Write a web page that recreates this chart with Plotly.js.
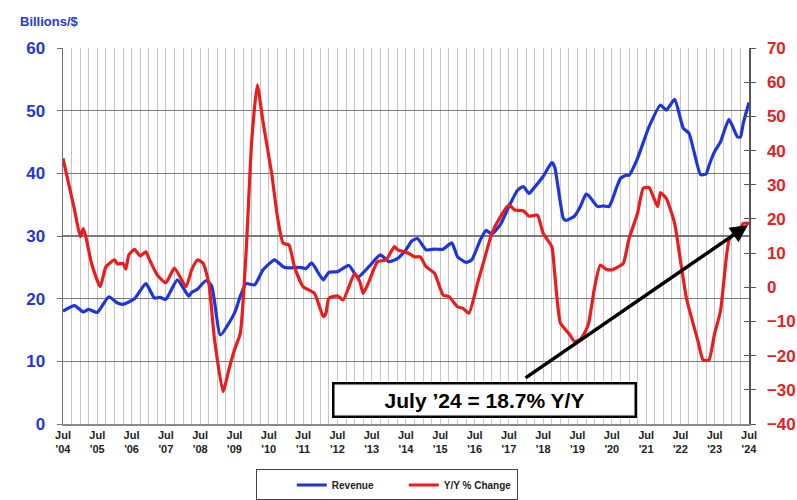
<!DOCTYPE html>
<html>
<head>
<meta charset="utf-8">
<script src="https://cdn.plot.ly/plotly-3.0.1.min.js"></script>
<style>html,body{margin:0;padding:0;background:#fff;}#chart{width:797px;height:500px;}</style>
</head>
<body>
<div id="chart"></div>
<script>
// Revenue (Billions $), left axis
const revDates = ['2004-07','2004-11','2005-02','2005-04','2005-07','2005-11','2006-02','2006-04','2006-08','2006-12',
  '2007-03','2007-05','2007-07','2007-11','2008-03','2008-04','2008-06','2008-09','2008-11','2009-02',
  '2009-07','2009-09','2009-11','2010-02','2010-05','2010-09','2010-12','2011-02','2011-06','2011-08',
  '2011-10','2012-02','2012-04','2012-07','2012-11','2013-02','2013-06','2013-10','2014-01','2014-04',
  '2014-07','2014-09','2014-11','2015-02','2015-05','2015-08','2015-11','2016-01','2016-04','2016-06',
  '2016-09','2016-11','2017-01','2017-04','2017-07','2017-10','2017-12','2018-02','2018-04','2018-07',
  '2018-10','2018-11','2019-02','2019-03','2019-06','2019-08','2019-10','2019-11','2020-02','2020-04',
  '2020-06','2020-07','2020-10','2020-12','2021-01','2021-04','2021-08','2021-12','2022-02','2022-05',
  '2022-08','2022-10','2023-02','2023-04','2023-05','2023-07','2023-09','2023-12','2024-03','2024-04',
  '2024-05','2024-07'];
const revenue = [18.0,18.9,17.9,18.3,17.8,20.3,19.3,19.1,20.0,22.4,
  20.1,20.2,19.9,23.0,20.4,21.0,21.5,22.9,22.0,14.2,
  17.7,20.4,22.4,22.2,24.6,26.2,25.1,24.9,25.0,24.8,
  25.7,23.0,24.2,24.3,25.3,23.4,25.1,27.0,25.9,26.4,
  27.8,29.2,29.6,27.8,27.9,27.9,28.9,26.7,25.8,26.2,
  29.4,30.9,30.3,31.8,34.7,37.3,37.9,36.8,37.8,39.5,
  41.7,41.0,32.8,32.5,33.2,34.7,36.7,36.4,34.7,34.8,
  34.7,35.6,39.2,39.7,39.7,42.4,47.4,50.9,50.1,51.8,
  47.2,46.4,39.8,39.9,41.2,43.5,45.0,48.6,45.8,45.8,
  48.0,51.3];

// Y/Y % change, right axis
const yoyDates = ['2004-07','2004-11','2005-01','2005-02','2005-03','2005-05','2005-08','2005-10','2006-01','2006-02',
  '2006-04','2006-05','2006-06','2006-08','2006-10','2006-12','2007-01','2007-04','2007-07','2007-10',
  '2008-02','2008-04','2008-06','2008-08','2008-10','2008-12','2009-03','2009-05','2009-07','2009-09',
  '2009-11','2010-01','2010-03','2010-05','2010-08','2010-10','2010-12','2011-02','2011-04','2011-07',
  '2011-11','2012-02','2012-03','2012-04','2012-07','2012-09','2013-01','2013-03','2013-04','2013-06',
  '2013-09','2013-12','2014-03','2014-04','2014-07','2014-08','2014-10','2014-12','2015-02','2015-05',
  '2015-08','2015-10','2016-01','2016-03','2016-05','2016-08','2016-10','2017-01','2017-04','2017-07',
  '2017-09','2017-12','2018-02','2018-05','2018-07','2018-10','2018-11','2019-01','2019-04','2019-06',
  '2019-08','2019-10','2019-11','2020-01','2020-03','2020-05','2020-07','2020-09','2020-11','2021-01',
  '2021-04','2021-06','2021-08','2021-11','2021-12','2022-02','2022-05','2022-07','2022-09','2022-10',
  '2023-01','2023-03','2023-05','2023-07','2023-09','2023-10','2023-12','2024-02','2024-03','2024-05',
  '2024-07'];
const yoy = [37.7,22.6,14.8,17.2,14.8,7.0,0.2,6.0,8.0,6.8,
  7.0,5.3,9.4,11.1,9.2,10.4,8.5,3.6,1.3,5.6,
  0.2,5.1,8.0,7.0,1.2,-15.4,-30.5,-24.2,-18.3,-13.5,
  9.9,43.1,59.2,48.4,33.3,20.7,12.9,12.4,6.0,0.2,
  -1.8,-8.6,-7.6,-3.2,-2.5,-3.7,4.1,1.3,-1.8,1.6,
  7.5,8.0,11.9,11.0,10.2,9.9,8.9,8.9,6.0,4.1,
  -2.3,-2.7,-5.7,-6.2,-7.6,1.2,7.0,15.8,20.6,24.1,
  22.6,22.4,20.8,21.1,15.8,11.9,4.1,-10.5,-13.5,-15.9,
  -15.2,-12.5,-10.1,0.2,6.5,5.3,5.1,5.9,7.0,14.3,
  21.6,29.0,29.2,23.6,27.7,26.0,18.7,8.0,-2.8,-6.2,
  -15.4,-21.3,-21.3,-13.5,-7.1,0.2,13.8,16.0,15.5,18.7,
  18.7];

const seriesNames = ['Revenue', 'Y/Y % Change'];
const years = [2004,2005,2006,2007,2008,2009,2010,2011,2012,2013,2014,2015,2016,2017,2018,2019,2020,2021,2022,2023,2024];
const leftTicks = [0,10,20,30,40,50,60];
const rightTicks = [-40,-30,-20,-10,0,10,20,30,40,50,60,70];
const calloutText = 'July ’24 = 18.7% Y/Y';

// quarterly gridline positions with July labels
const tickVals = [], tickText = [];
years.forEach((y, i) => {
  const months = (i === years.length - 1) ? [7] : [7,10,13,16];
  months.forEach(m => {
    const yy = m > 12 ? y + 1 : y;
    const mm = m > 12 ? m - 12 : m;
    tickVals.push(yy + '-' + String(mm).padStart(2,'0') + '-01');
    tickText.push(m === 7 ? 'Jul<br>\'' + String(y).slice(2) : '');
  });
});

const BLUE = '#1f35dc', RED = '#ec1c1c';
const FONT = 'Liberation Sans, Arial, sans-serif';

const traces = [
  {x: revDates, y: revenue, name: seriesNames[0], type: 'scatter', mode: 'lines', yaxis: 'y',
   line: {color: BLUE, width: 3.2, shape: 'spline', smoothing: 0.5}},
  {x: yoyDates, y: yoy, name: seriesNames[1], type: 'scatter', mode: 'lines', yaxis: 'y2',
   line: {color: RED, width: 3.2, shape: 'spline', smoothing: 0.5}},
  {x: [], y: [], yaxis: 'y3', showlegend: false, hoverinfo: 'skip'}
];

const layout = {
  width: 797, height: 500,
  margin: {l: 63, r: 48, t: 48, b: 76, autoexpand: false},
  paper_bgcolor: '#fff', plot_bgcolor: '#fff',
  showlegend: true,
  font: {family: FONT},
  xaxis: {
    type: 'date', range: ['2004-07-01', '2024-07-01'],
    tickmode: 'array', tickvals: tickVals, ticktext: tickText,
    showgrid: true, gridcolor: '#c4c4c4', gridwidth: 1,
    showline: true, linecolor: '#8a8a8a', linewidth: 1.5,
    ticks: '', tickangle: 0, automargin: false,
    tickfont: {family: FONT, size: 11, color: '#222', weight: 'bold'},
    zeroline: false
  },
  yaxis: {
    range: [0, 60], tickmode: 'array', tickvals: leftTicks, automargin: false,
    showgrid: true, gridcolor: '#7a7a7a', gridwidth: 1.5,
    showline: true, linecolor: '#6e6e6e', linewidth: 1.5,
    ticks: 'outside', ticklen: 5, tickcolor: '#6e6e6e',
    ticklabelstandoff: 8,
    tickfont: {family: FONT, size: 17, color: '#2437d8', weight: 'bold'},
    zeroline: false
  },
  yaxis2: {
    range: [-40, 70], overlaying: 'y', side: 'right', automargin: false,
    tickmode: 'array', tickvals: rightTicks,
    showgrid: false, showline: true, linecolor: '#555', linewidth: 1.5,
    ticks: 'outside', ticklen: 5, tickcolor: '#555',
    ticklabelstandoff: 8,
    tickfont: {family: FONT, size: 17, color: '#e32222', weight: 'bold'},
    zeroline: false
  },
  yaxis3: {
    range: [-40, 70], overlaying: 'y', side: 'right', automargin: false,
    tickmode: 'array', tickvals: rightTicks,
    showgrid: false, showline: false, showticklabels: false,
    ticks: 'inside', ticklen: 5, tickcolor: '#555', zeroline: false
  },
  legend: {
    orientation: 'h', x: 0.281, xanchor: 'left', y: -0.121, yanchor: 'top',
    bordercolor: '#444', borderwidth: 1, bgcolor: '#fff',
    entrywidth: 67, entrywidthmode: 'pixels',
    title: {text: '&nbsp;&nbsp;&nbsp;&nbsp;&nbsp;&nbsp;&nbsp;&nbsp;&nbsp;', side: 'left',
            font: {family: FONT, size: 10}},
    font: {family: FONT, size: 10, color: '#222', weight: 'bold'},
    itemwidth: 30
  },
  annotations: [
    {xref: 'paper', yref: 'paper', x: -0.065, y: 1.045, xanchor: 'left', yanchor: 'bottom',
     text: 'Billions/$', showarrow: false,
     font: {family: FONT, size: 13, color: '#2437d8', weight: 'bold'}},
    {xref: 'x', yref: 'y2', x: '2024-06-20', y: 18.2, axref: 'x', ayref: 'y2',
     ax: '2017-12-10', ay: -26.8, text: '', showarrow: true,
     arrowhead: 2, arrowsize: 1, arrowwidth: 3.5, arrowcolor: '#000', standoff: 0},
    {xref: 'paper', yref: 'paper', x: 0.615, y: 0.064, xanchor: 'center', yanchor: 'middle',
     text: calloutText, showarrow: false, width: 300, height: 31,
     bgcolor: '#fff', bordercolor: '#000', borderwidth: 2.5, borderpad: 0,
     font: {family: FONT, size: 21, color: '#000', weight: 'bold'}}
  ]
};

Plotly.newPlot('chart', traces, layout, {displayModeBar: false, staticPlot: true});
</script>
</body>
</html>
